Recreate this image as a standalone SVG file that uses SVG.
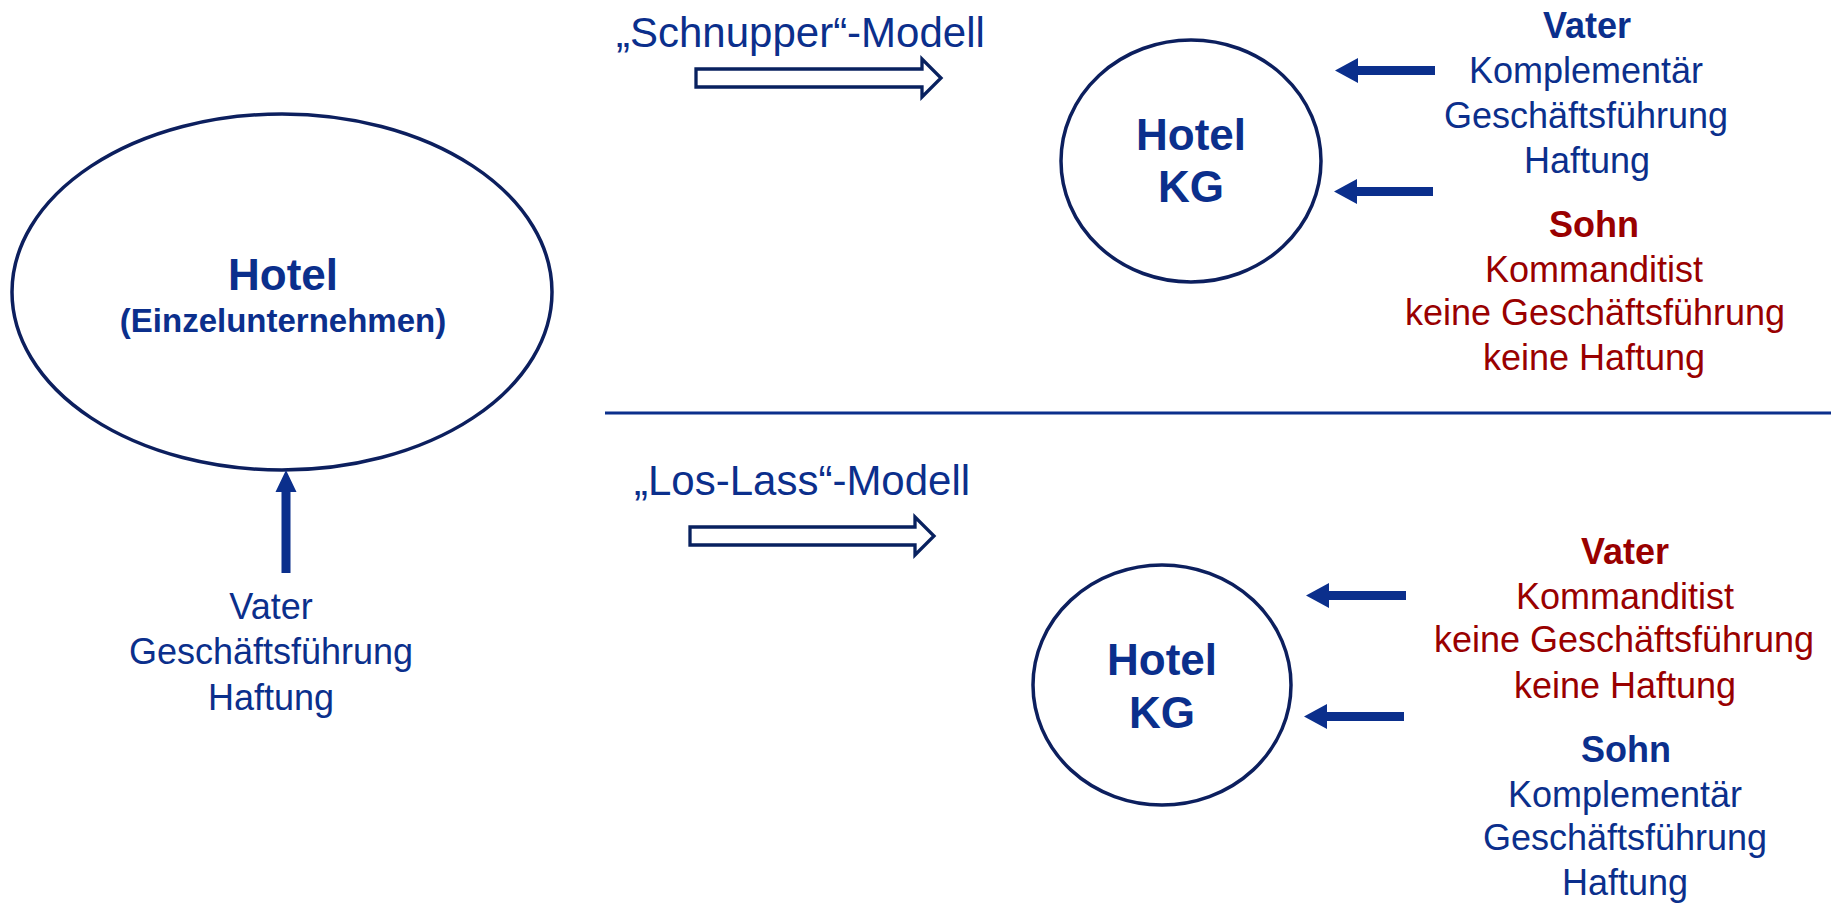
<svg xmlns="http://www.w3.org/2000/svg" width="1831" height="904" viewBox="0 0 1831 904">
<style>
  text { font-family: "Liberation Sans", Arial, sans-serif; text-anchor: middle; }
  .b { fill: #0B2F8C; }
  .r { fill: #990000; }
  .reg { font-size: 36px; }
  .name { font-size: 36px; font-weight: bold; }
  .hotel { font-size: 44px; font-weight: bold; fill: #0B2F8C; }
  .hdr { font-size: 42px; fill: #0B2F8C; text-anchor: start; }
  .ell { fill: #fff; stroke: #0C1F5E; stroke-width: 3.5; }
  .hollow { fill: #fff; stroke: #08215F; stroke-width: 3.3; }
  .solid { fill: #0B2F8C; }
</style>
<rect width="1831" height="904" fill="#fff"/>

<g id="einzelunternehmen">
  <ellipse class="ell" cx="282" cy="292" rx="270" ry="178"/>
  <text class="hotel" x="283" y="290">Hotel</text>
  <text class="b" x="283" y="332" style="font-size:33px;font-weight:bold">(Einzelunternehmen)</text>
</g>

<g id="label-vater-einzel">
  <text class="b reg" x="271" y="619">Vater</text>
  <text class="b reg" x="271" y="664">Geschäftsführung</text>
  <text class="b reg" x="271" y="710">Haftung</text>
</g>

<g id="header-schnupper">
  <text class="hdr" x="616" y="47">„Schnupper“-Modell</text>
</g>
<g id="header-loslass">
  <text class="hdr" x="634" y="495">„Los-Lass“-Modell</text>
</g>

<g id="kg-schnupper">
  <ellipse class="ell" cx="1191" cy="161" rx="130" ry="121"/>
  <text class="hotel" x="1191" y="150">Hotel</text>
  <text class="hotel" x="1191" y="202">KG</text>
</g>

<g id="kg-loslass">
  <ellipse class="ell" cx="1162" cy="685" rx="129" ry="120"/>
  <text class="hotel" x="1162" y="675">Hotel</text>
  <text class="hotel" x="1162" y="728">KG</text>
</g>

<g id="schnupper-vater">
  <text class="b name" x="1587" y="38">Vater</text>
  <text class="b reg" x="1586" y="83">Komplementär</text>
  <text class="b reg" x="1586" y="128">Geschäftsführung</text>
  <text class="b reg" x="1587" y="173">Haftung</text>
</g>
<g id="schnupper-sohn">
  <text class="r name" x="1594" y="237">Sohn</text>
  <text class="r reg" x="1594" y="282">Kommanditist</text>
  <text class="r reg" x="1595" y="325">keine Geschäftsführung</text>
  <text class="r reg" x="1594" y="370">keine Haftung</text>
</g>

<g id="loslass-vater">
  <text class="r name" x="1625" y="564">Vater</text>
  <text class="r reg" x="1625" y="609">Kommanditist</text>
  <text class="r reg" x="1624" y="652">keine Geschäftsführung</text>
  <text class="r reg" x="1625" y="698">keine Haftung</text>
</g>
<g id="loslass-sohn">
  <text class="b name" x="1626" y="762">Sohn</text>
  <text class="b reg" x="1625" y="807">Komplementär</text>
  <text class="b reg" x="1625" y="850">Geschäftsführung</text>
  <text class="b reg" x="1625" y="895">Haftung</text>
</g>

<g id="connectors">
  <line x1="605" y1="413" x2="1831" y2="413" stroke="#0B2F8C" stroke-width="3"/>
  <path class="hollow" d="M696,69 H922 V59 L941,78 L922,97 V87 H696 Z"/>
  <path class="hollow" d="M690,527 H915 V517 L934,536 L915,555 V545 H690 Z"/>
  <path class="solid" d="M1435,66 H1358 V58 L1335,70.5 L1358,83 V75 H1435 Z"/>
  <path class="solid" d="M1433,187 H1357 V179 L1334,191.5 L1357,204 V196 H1433 Z"/>
  <path class="solid" d="M1406,591 H1329 V583 L1306,595.5 L1329,608 V600 H1406 Z"/>
  <path class="solid" d="M1404,712 H1327 V704 L1304,716.5 L1327,729 V721 H1404 Z"/>
  <path class="solid" d="M281.5,573 V492 H275.5 L286,470 L296.5,492 H290.5 V573 Z"/>
</g>
</svg>
